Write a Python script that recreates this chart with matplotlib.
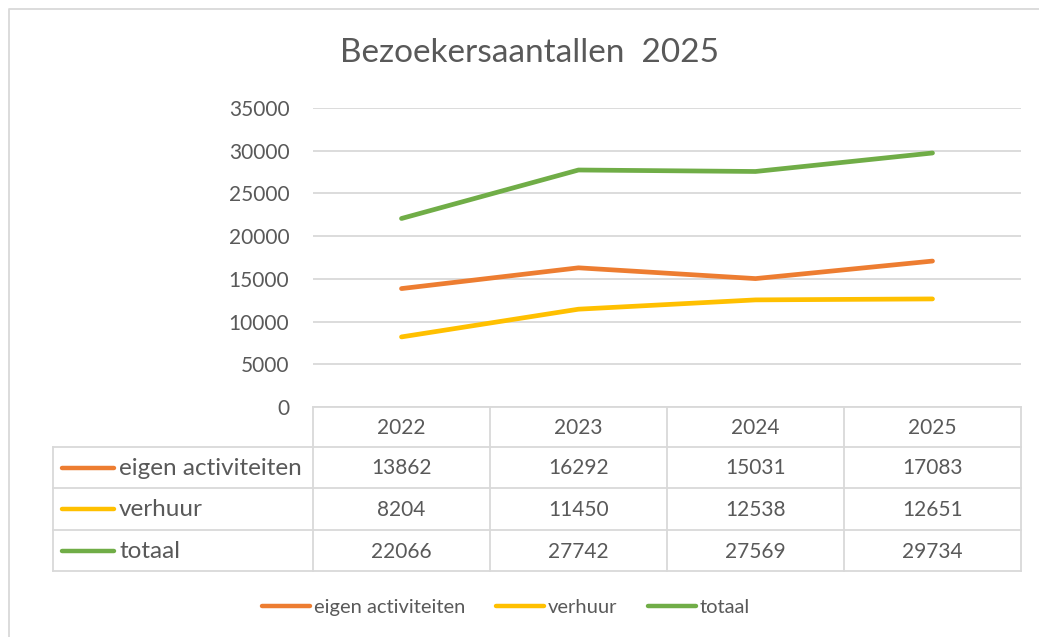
import numpy as np
import matplotlib.pyplot as plt
from matplotlib.lines import Line2D

plt.rcParams['font.family'] = ['Lato', 'DejaVu Sans']

years = ['2022', '2023', '2024', '2025']
series_names = ['eigen activiteiten', 'verhuur', 'totaal']
eigen = [13862, 16292, 15031, 17083]
verhuur = [8204, 11450, 12538, 12651]
totaal = [22066, 27742, 27569, 29734]
colors = ['#ED7D31', '#FFC000', '#70AD47']
yticks = [0, 5000, 10000, 15000, 20000, 25000, 30000, 35000]

W, H = 1039, 637
txt = '#595959'
grid = '#D9D9D9'
num_fs = 15
lab_fs = 17.5

fig = plt.figure(figsize=(W / 100, H / 100), dpi=100)

# overlay in pixel coordinates for frame, table and legend
ov = fig.add_axes([0, 0, 1, 1])
ov.set_xlim(0, W)
ov.set_ylim(H, 0)
ov.axis('off')

# plot area (pixels)
x0, x1 = 313, 1021
ytop, ybot = 108, 407
ax = fig.add_axes([x0 / W, 1 - ybot / H, (x1 - x0) / W, (ybot - ytop) / H])
ax.set_xlim(-0.5, 3.5)
ax.set_ylim(0, 35000)
for s in ax.spines.values():
    s.set_visible(False)
ax.set_xticks([])
ax.set_yticks(yticks)
ax.set_yticklabels([str(t) for t in yticks], fontsize=num_fs, color=txt)
ax.tick_params(axis='y', length=0, pad=17)
ax.grid(axis='y', color=grid, lw=1.3)
ax.set_axisbelow(True)
ax.patch.set_alpha(0)

all_series = [eigen, verhuur, totaal]
for vals, c in zip(all_series, colors):
    ax.plot(range(len(years)), vals, color=c, lw=3.4, solid_capstyle='round',
            solid_joinstyle='round', zorder=3)

# outer chart frame
ov.plot([9, 9, W + 5], [H + 5, 9, 9], color=grid, lw=1.3)

# title
ov.text(530, 53, 'Bezoekersaantallen  2025', fontsize=24, color=txt,
        ha='center', va='center')

# data table
colw = (x1 - x0) / len(years)
rows = [407, 447, 488, 530, 571]
lc = '#D9D9D9'
lw = 1.3
ov.plot([x0, x1], [rows[0], rows[0]], color=lc, lw=lw)
for r in rows[1:]:
    ov.plot([53, x1], [r, r], color=lc, lw=lw)
ov.plot([53, 53], [rows[1], rows[-1]], color=lc, lw=lw)
for i in range(len(years) + 1):
    xx = x0 + i * colw
    ov.plot([xx, xx], [rows[0], rows[-1]], color=lc, lw=lw)
for i, y in enumerate(years):
    ov.text(x0 + (i + 0.5) * colw, (rows[0] + rows[1]) / 2 + 1, y, fontsize=num_fs,
            color=txt, ha='center', va='center')
for j, (name, vals, c) in enumerate(zip(series_names, all_series, colors)):
    yc = (rows[j + 1] + rows[j + 2]) / 2
    ov.plot([62, 114], [yc, yc], color=c, lw=3.2, solid_capstyle='round')
    ov.text(119, yc + 1, name, fontsize=lab_fs, color=txt, ha='left', va='center')
    for i, v in enumerate(vals):
        ov.text(x0 + (i + 0.5) * colw, yc + 1, str(v), fontsize=num_fs, color=txt,
                ha='center', va='center')

# legend
handles = [Line2D([], [], color=c, lw=3.2, solid_capstyle='round') for c in colors]
fig.legend(handles, series_names, loc='center', bbox_to_anchor=(506 / W, 1 - 607 / H),
           ncol=3, frameon=False, fontsize=14.5, labelcolor=txt, handlelength=2.4,
           handletextpad=0.2, columnspacing=1.5)

fig.savefig('out.png', dpi=100)
